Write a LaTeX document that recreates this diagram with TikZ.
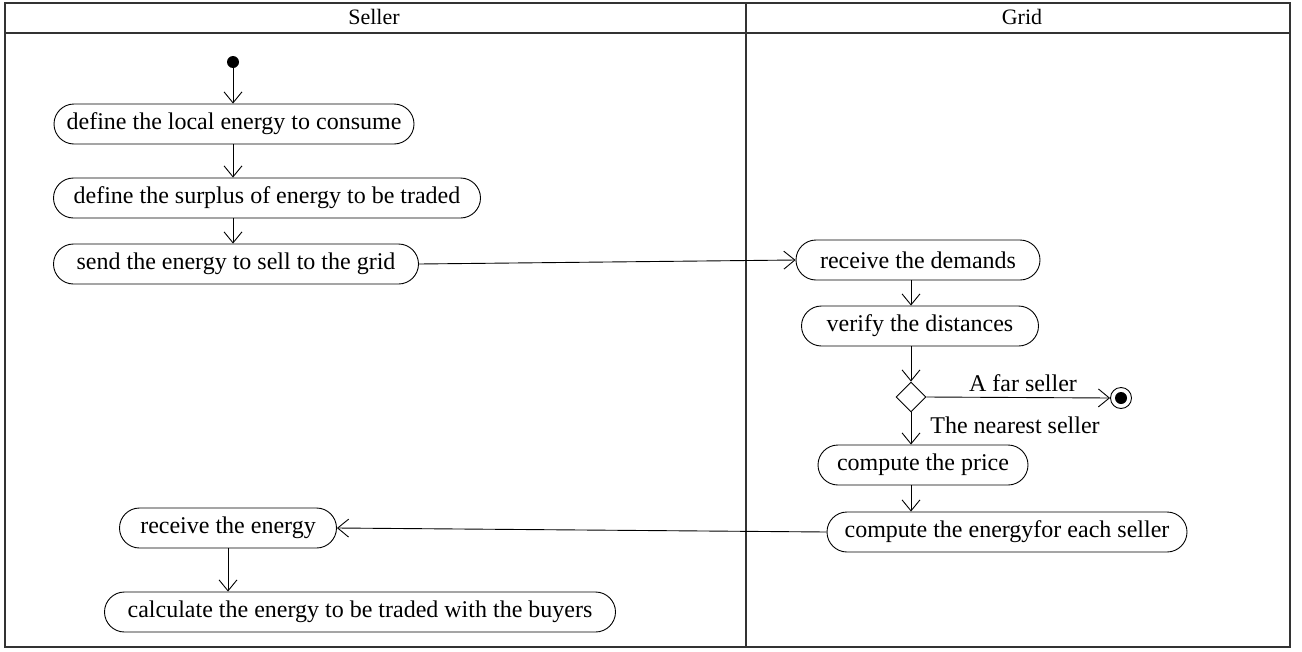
\documentclass[tikz,border=0pt]{standalone}
\usepackage{fontspec}
\setmainfont{Liberation Serif}
\usetikzlibrary{arrows.meta,shapes.geometric}
\begin{document}
\begin{tikzpicture}[x=1pt,y=-1pt,
  act/.style={draw, rounded corners=20pt, minimum height=40pt, inner sep=0pt, font=\fontsize{24}{27}\selectfont, line width=0.9pt},
  flow/.style={draw, line width=0.9pt, -{Straight Barb[length=11pt,width=18pt,line width=0.9pt]}},
  lbl/.style={font=\fontsize{24}{27}\selectfont, inner sep=0pt},
  hlbl/.style={font=\fontsize{22}{25}\selectfont, inner sep=0pt},
  frame/.style={draw=black!80, line width=1.2pt}]
\useasboundingbox (0,0) rectangle (1302,651);
% swimlanes
\draw[frame] (5,3) rectangle (1290,647);
\draw[frame] (5,33) -- (1290,33);
\draw[frame] (746,3) -- (746,647);
\node[hlbl] (hs) at (374,17) {Seller};
\node[hlbl] (hg) at (1022,17) {Grid};
% seller lane
\node[circle, fill=black, minimum size=12pt, inner sep=0pt] (start) at (233,62) {};
\node[act, minimum width=360pt] (n1) at (234,124) {define the local energy to consume};
\node[act, minimum width=427pt] (n2) at (267,198) {define the surplus of energy to be traded};
\node[act, minimum width=365pt] (n3) at (236,264) {send the energy to sell to the grid};
\node[act, minimum width=217pt] (l1) at (228,528) {receive the energy};
\node[act, minimum width=511pt] (l2) at (360,612) {calculate the energy to be traded with the buyers};
% grid lane
\node[act, minimum width=244pt] (r1) at (918,260) {receive the demands};
\node[act, minimum width=237pt] (r2) at (920,326) {verify the distances};
\node[diamond, draw, line width=0.9pt, minimum width=30pt, minimum height=30pt, inner sep=0pt] (dec) at (911,397) {};
\node[circle, draw, line width=0.9pt, minimum size=21pt, inner sep=0pt] (fin) at (1121,398) {};
\node[circle, fill=black, minimum size=12pt, inner sep=0pt] (finin) at (fin) {};
\node[act, minimum width=210pt] (r3) at (923,465) {compute the price};
\node[act, minimum width=360pt] (r4) at (1007,532) {compute the energyfor each seller};
\node[lbl] (far) at (1023,383) {A far seller};
\node[lbl] (near) at (1015,425) {The nearest seller};
% connectors
\draw[flow] (start) -- (start |- n1.north);
\draw[flow] (start |- n1.south) -- (start |- n2.north);
\draw[flow] (start |- n2.south) -- (start |- n3.north);
\draw[flow] (n3.east) -- (r1.west);
\draw[flow] (dec |- r1.south) -- (dec |- r2.north);
\draw[flow] (dec |- r2.south) -- (dec.north);
\draw[flow] (dec.east) -- (fin.west);
\draw[flow] (dec.south) -- (dec |- r3.north);
\draw[flow] (dec |- r3.south) -- (dec |- r4.north);
\draw[flow] (r4.west) -- (l1.east);
\draw[flow] (l1.south) -- (l2.north -| l1.south);
\end{tikzpicture}
\end{document}
